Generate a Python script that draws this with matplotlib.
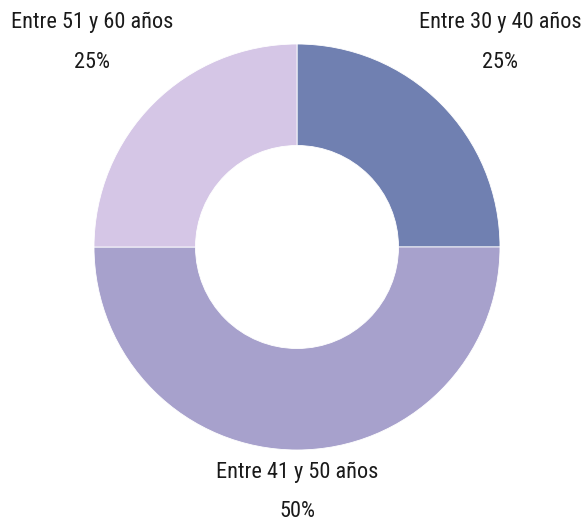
import matplotlib
matplotlib.use("Agg")
import matplotlib.pyplot as plt

# age groups and their share
categories = ["Entre 30 y 40 años", "Entre 41 y 50 años", "Entre 51 y 60 años"]
shares = [25, 50, 25]
colors = ["#7080b1", "#a7a1cc", "#d5c6e6"]

plt.rcParams['font.family'] = ['Roboto Condensed', 'DejaVu Sans Condensed',
                               'Liberation Sans Narrow', 'DejaVu Sans']

fig = plt.figure(figsize=(5.85, 5.26), dpi=100)
ax = fig.add_axes([0, 0, 1, 1])

ax.pie(shares, colors=colors, startangle=90, counterclock=False,
       radius=1.0, wedgeprops=dict(width=0.5, edgecolor="white", linewidth=0.6))

# label anchors (center of label text), one per category
label_pos = [(1.0, 1.108), (0.0, -1.108), (-1.01, 1.108)]
for name, val, (x, y) in zip(categories, shares, label_pos):
    ax.text(x, y, name, ha="center", va="center", fontsize=16, color="#1a1a1a")
    ax.text(x, y - 0.197, f"{val}%", ha="center", va="center", fontsize=16, color="#1a1a1a")

ax.set_xlim(-297 / 203, 288 / 203)
ax.set_ylim(-279 / 203, 247 / 203)
ax.set_aspect("auto")
ax.axis("off")

fig.savefig("out.png", dpi=100)
